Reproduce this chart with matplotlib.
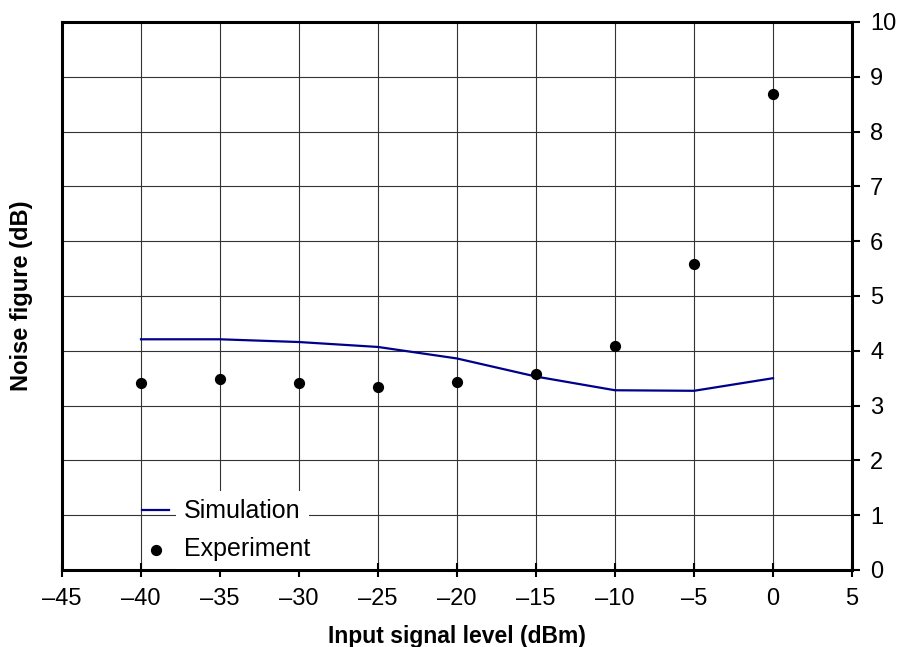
import matplotlib.pyplot as plt

plt.rcParams['font.family'] = ['Liberation Sans', 'DejaVu Sans']

x_levels = [-40, -35, -30, -25, -20, -15, -10, -5, 0]
simulation = [4.21, 4.21, 4.16, 4.07, 3.86, 3.53, 3.28, 3.27, 3.50]
experiment = [3.41, 3.49, 3.41, 3.34, 3.43, 3.58, 4.09, 5.58, 8.69]

x_ticks = list(range(-45, 10, 5))
y_ticks = list(range(0, 11))

fig = plt.figure(figsize=(9.01, 6.47), dpi=100)
ax = fig.add_axes([62 / 901, 77 / 647, 790 / 901, 548 / 647])

ax.plot(x_levels, simulation, color='#00008c', linewidth=1.6, label='Simulation')
ax.scatter(x_levels, experiment, color='black', s=50, zorder=3, label='Experiment')

ax.set_xlim(-45, 5)
ax.set_ylim(0, 10)
ax.set_xticks(x_ticks)
ax.set_yticks(y_ticks)
ax.set_xticklabels([str(t).replace('-', '\u2013') for t in x_ticks])
ax.yaxis.tick_right()
ax.grid(True, color='#333333', linewidth=0.8)
ax.set_axisbelow(True)
for s in ax.spines.values():
    s.set_linewidth(2.2)
ax.tick_params(axis='x', direction='inout', length=10, width=1.5, labelsize=17, pad=8)
ax.tick_params(axis='y', direction='out', length=6, width=1.5, labelsize=17, pad=7)

ax.set_xlabel('Input signal level (dBm)', fontsize=16.5, fontweight='bold')
ax.set_ylabel('Noise figure (dB)', fontsize=17, fontweight='bold')
ax.yaxis.set_label_position('left')
ax.xaxis.set_label_coords(0.5, -0.1)
ax.yaxis.set_label_coords(-0.037, 0.5)

leg = ax.legend(loc='lower left', bbox_to_anchor=(0.101, 0.016), fontsize=18, frameon=False,
                handlelength=1.1, handletextpad=0.6, labelspacing=0.55, borderpad=0,
                borderaxespad=0)
for t in leg.get_texts():
    t.set_bbox(dict(facecolor='white', edgecolor='none', pad=6))

plt.savefig('out.png', dpi=100)
